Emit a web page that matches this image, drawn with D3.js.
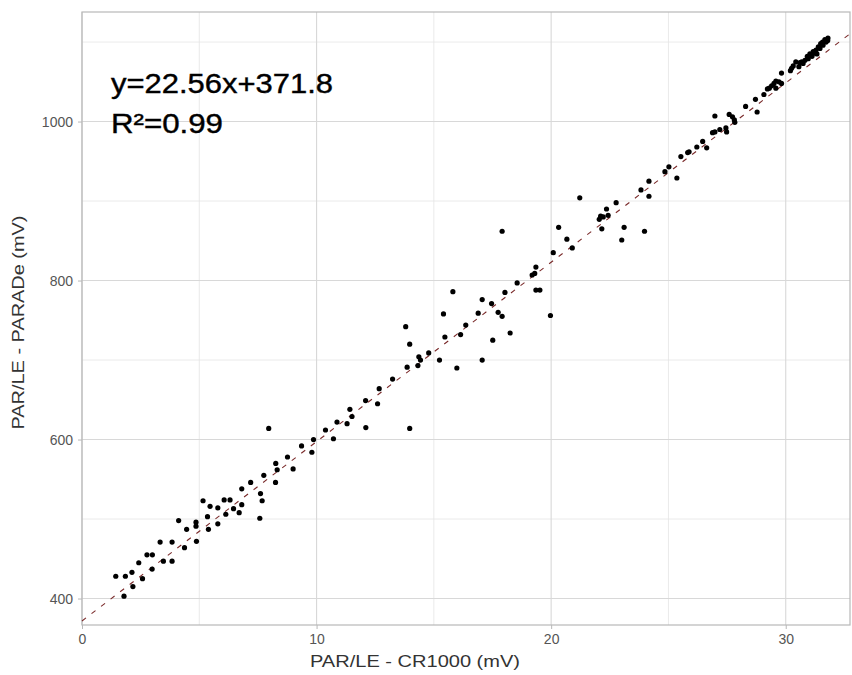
<!DOCTYPE html>
<html>
<head>
<meta charset="utf-8">
<script src="https://cdn.jsdelivr.net/npm/d3@7"></script>
<style>
  body { margin: 0; background: #fff; }
  svg { display: block; }
</style>
</head>
<body>
<div id="chart"></div>
<script>
// PAR/LE readings: CR1000 (x) against PARADe (y), both in mV
var cr1000 = [
  1.44, 1.85, 1.79, 2.13, 2.17, 2.42, 2.58, 2.77, 3.00, 2.99,
  3.33, 3.47, 3.84, 3.84, 4.12, 4.37, 4.46, 4.86, 4.86, 4.88,
  5.16, 5.35, 5.39, 5.46, 5.79, 5.79, 6.06, 6.31, 6.13, 6.46,
  6.70, 6.81, 6.81, 7.19, 7.58, 7.61, 7.68, 8.25, 7.96, 7.75,
  8.26, 8.32, 8.76, 9.00, 9.36, 9.80, 9.87, 10.38, 10.72, 10.87,
  11.30, 11.42, 11.51, 12.09, 12.10, 12.60, 12.67, 13.24, 13.86, 13.97,
  13.97, 14.32, 14.36, 14.43, 14.78, 15.24, 15.47, 15.98, 16.14, 17.06,
  15.81, 15.41, 17.06, 17.46, 17.74, 16.89, 16.36, 17.51, 13.80, 17.91,
  21.22, 20.32, 20.67, 20.90, 20.09, 19.35, 19.30, 19.19, 18.55, 18.03,
  19.35, 19.52, 17.91, 19.97, 18.25, 22.77, 22.36, 22.11, 22.05, 22.22,
  22.43, 22.16, 23.11, 23.01, 23.98, 23.83, 24.17, 24.17, 24.85, 25.02,
  25.36, 25.53, 25.82, 25.88, 26.21, 26.46, 26.63, 26.88, 26.98, 26.98,
  27.19, 27.45, 27.48, 27.59, 27.73, 27.81, 27.83, 28.29, 28.71, 28.78,
  29.07, 29.22, 29.30, 29.40, 29.50, 29.58, 29.58, 29.71, 29.82, 29.82,
  30.20, 30.25, 30.32, 30.43, 30.56, 30.61, 30.68, 30.82, 30.92, 31.03,
  31.17, 31.29, 31.39, 31.49, 31.57, 31.67, 31.79, 31.12, 31.33, 31.80,
  31.59, 30.74, 30.96, 31.25, 31.46, 31.72
];
var parade = [
  428, 428, 403, 433, 415, 445, 425, 455, 455, 437,
  471, 447, 471, 447, 498, 464, 487, 496, 491, 472,
  523, 503, 487, 516, 514, 494, 524, 524, 506, 513,
  508, 538, 518, 546, 501, 532, 523, 546, 614, 555,
  570, 562, 578, 563, 592, 584, 600, 612, 601, 622,
  620, 638, 629, 649, 615, 645, 664, 676, 691, 614,
  720, 693, 704, 700, 709, 700, 729, 690, 732, 700,
  786, 758, 776, 771, 760, 759, 744, 725, 742, 862,
  904, 867, 852, 841, 835, 817, 809, 807, 797, 785,
  788, 788, 755, 756, 734, 898, 890, 881, 877, 880,
  882, 865, 867, 851, 862, 914, 925, 906, 937, 943,
  929, 956, 961, 962, 968, 975, 967, 986, 987, 1007,
  990, 992, 987, 1009, 1006, 1002, 999, 1019, 1028, 1012,
  1034, 1041, 1042, 1045, 1048, 1051, 1042, 1050, 1048, 1061,
  1064, 1067, 1070, 1075, 1069, 1074, 1075, 1077, 1082, 1085,
  1088, 1090, 1094, 1098, 1100, 1103, 1102, 1082, 1085, 1105,
  1096, 1073, 1079, 1086, 1092, 1100
];

var xTicks = [0, 10, 20, 30],
    xMinor = [5, 15, 25],
    yTicks = [400, 600, 800, 1000],
    yMinor = [500, 700, 900, 1100];

var slope = 22.56,
    intercept = 371.8,
    eqLines = ['y=22.56x+371.8', 'R\u00b2=0.99'];

var width = 852, height = 675,
    margin = {top: 12, right: 2, bottom: 50, left: 82},
    innerW = width - margin.left - margin.right,
    innerH = height - margin.top - margin.bottom;

var svg = d3.select('#chart').append('svg')
    .attr('width', width)
    .attr('height', height);

var g = svg.append('g')
    .attr('transform', 'translate(' + margin.left + ',' + margin.top + ')');

var x = d3.scaleLinear().domain([0, 32.74]).range([0, innerW]);
var y = d3.scaleLinear().domain([366.7, 1137.8]).range([innerH, 0]);

// minor grid
g.selectAll('.xminor').data(xMinor).enter().append('line')
  .attr('x1', function(d) { return x(d); }).attr('x2', function(d) { return x(d); })
  .attr('y1', 0).attr('y2', innerH)
  .style('stroke', '#e4e4e4').style('stroke-width', 0.8);
g.selectAll('.yminor').data(yMinor).enter().append('line')
  .attr('y1', function(d) { return y(d); }).attr('y2', function(d) { return y(d); })
  .attr('x1', 0).attr('x2', innerW)
  .style('stroke', '#e4e4e4').style('stroke-width', 0.8);

// major grid
g.selectAll('.xmajor').data(xTicks).enter().append('line')
  .attr('x1', function(d) { return x(d); }).attr('x2', function(d) { return x(d); })
  .attr('y1', 0).attr('y2', innerH)
  .style('stroke', '#d8d8d8').style('stroke-width', 1.1);
g.selectAll('.ymajor').data(yTicks).enter().append('line')
  .attr('y1', function(d) { return y(d); }).attr('y2', function(d) { return y(d); })
  .attr('x1', 0).attr('x2', innerW)
  .style('stroke', '#d8d8d8').style('stroke-width', 1.1);

// panel border
g.append('rect')
  .attr('width', innerW).attr('height', innerH)
  .style('fill', 'none').style('stroke', '#b8b8b8').style('stroke-width', 1.2);

// axes
var xAxis = g.append('g')
  .attr('transform', 'translate(0,' + innerH + ')')
  .call(d3.axisBottom(x).tickValues(xTicks).tickSize(4).tickPadding(5));
var yAxis = g.append('g')
  .call(d3.axisLeft(y).tickValues(yTicks).tickFormat(d3.format('d')).tickSize(4).tickPadding(5));
[xAxis, yAxis].forEach(function(a) {
  a.select('.domain').remove();
  a.selectAll('line').style('stroke', '#b8b8b8');
  a.selectAll('text')
    .style('fill', '#555')
    .style('font-family', 'Liberation Sans, Arial, sans-serif')
    .style('font-size', '14px');
});

// regression line
g.append('line')
  .attr('x1', x(0)).attr('y1', y(intercept))
  .attr('x2', x(32.74)).attr('y2', y(slope * 32.74 + intercept))
  .style('stroke', '#7a2a2a')
  .style('stroke-width', 1.1)
  .style('stroke-dasharray', '5,7');

// points
g.selectAll('circle')
  .data(cr1000.map(function(v, i) { return [v, parade[i]]; }))
  .enter().append('circle')
    .attr('cx', function(d) { return x(d[0]); })
    .attr('cy', function(d) { return y(d[1]); })
    .attr('r', 2.6)
    .style('fill', '#000');

// equation label
g.selectAll('.eq').data(eqLines).enter().append('text')
  .attr('x', 29)
  .attr('y', function(d, i) { return 81 + i * 40; })
  .attr('textLength', function(d, i) { return i === 0 ? 222 : 112; })
  .attr('lengthAdjust', 'spacingAndGlyphs')
  .style('font-family', 'Liberation Sans, Arial, sans-serif')
  .style('font-size', '27px')
  .style('fill', '#000')
  .style('stroke', '#000')
  .style('stroke-width', 0.4)
  .text(function(d) { return d; });

// axis titles
svg.append('text')
  .attr('x', margin.left + innerW / 2 - 51)
  .attr('y', 667)
  .attr('text-anchor', 'middle')
  .attr('textLength', 210)
  .attr('lengthAdjust', 'spacingAndGlyphs')
  .style('font-family', 'Liberation Sans, Arial, sans-serif')
  .style('font-size', '17px')
  .style('fill', '#333')
  .text('PAR/LE - CR1000 (mV)');

svg.append('text')
  .attr('transform', 'translate(24,' + (margin.top + innerH / 2 + 4) + ') rotate(-90)')
  .attr('text-anchor', 'middle')
  .attr('textLength', 214)
  .attr('lengthAdjust', 'spacingAndGlyphs')
  .style('font-family', 'Liberation Sans, Arial, sans-serif')
  .style('font-size', '17px')
  .style('fill', '#333')
  .text('PAR/LE - PARADe (mV)');
</script>
</body>
</html>
